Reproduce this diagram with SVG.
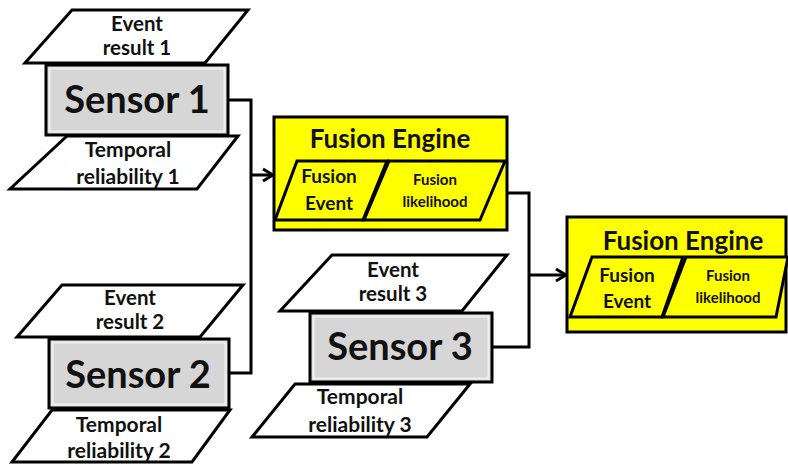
<svg xmlns="http://www.w3.org/2000/svg" width="788" height="464" viewBox="0 0 788 464">
<defs>
<style>
.t{font-family:Lato,"Liberation Sans",sans-serif;font-weight:bold;fill:#111;text-anchor:middle}
.para{fill:#fff;stroke:#000;stroke-width:3;stroke-linejoin:miter}
.ypara{fill:#ffff00;stroke:#000;stroke-width:3}
.sens{fill:#d6d6d6;stroke:#000;stroke-width:3}
.sensin{fill:none;stroke:#f0f0f0;stroke-width:2}
.eng{fill:#ffff00;stroke:#000;stroke-width:3}
.ln{fill:none;stroke:#000;stroke-width:3}
</style>
<marker id="arr" markerUnits="userSpaceOnUse" markerWidth="14" markerHeight="16" refX="12" refY="8" orient="auto">
<path d="M2,2 L12,8 L2,14" fill="none" stroke="#000" stroke-width="3"/>
</marker>
</defs>
<rect width="788" height="464" fill="#fff"/>
<g id="connectors">
<path class="ln" d="M228,100 H251 V373 H229"/>
<path class="ln" d="M251,175 H273" marker-end="url(#arr)"/>
<path class="ln" d="M492,193 H529 V347 H492"/>
<path class="ln" d="M529,275 H566" marker-end="url(#arr)"/>
</g>
<g id="event1">
<polygon class="para" points="72,10 248,10 205,63 25,63"/>
<text class="t" x="137" y="31" font-size="20.5">Event</text>
<text class="t" x="137" y="55" font-size="20.5">result 1</text>
</g>
<g id="sensor1">
<rect class="sens" x="46" y="65" width="182" height="70"/>
<rect class="sensin" x="49.5" y="68.5" width="175" height="63"/>
<text class="t" x="137" y="113" font-size="38">Sensor 1</text>
</g>
<g id="temporal1">
<polygon class="para" points="67,136 238,136 197,189 10,189"/>
<text class="t" x="128" y="157" font-size="21">Temporal</text>
<text class="t" x="128" y="184" font-size="21">reliability 1</text>
</g>
<g id="event2">
<polygon class="para" points="62,285 243,285 200,337 17,337"/>
<text class="t" x="130" y="305" font-size="20.5">Event</text>
<text class="t" x="130" y="329" font-size="20.5">result 2</text>
</g>
<g id="sensor2">
<rect class="sens" x="49" y="339" width="180" height="69"/>
<rect class="sensin" x="52.5" y="342.5" width="173" height="62"/>
<text class="t" x="138" y="388" font-size="38">Sensor 2</text>
</g>
<g id="temporal2">
<polygon class="para" points="52,410 230,410 192,462 12,462"/>
<text class="t" x="119" y="432" font-size="21">Temporal</text>
<text class="t" x="119" y="458" font-size="21">reliability 2</text>
</g>
<g id="fusion1">
<rect class="eng" x="274" y="117" width="233" height="113"/>
<text class="t" x="390" y="148" font-size="26">Fusion Engine</text>
<polygon class="ypara" points="297,161 387,161 363,220 275,220"/>
<text class="t" x="329" y="183" font-size="19">Fusion</text>
<text class="t" x="329" y="210" font-size="19">Event</text>
<polygon class="ypara" points="389,161 505,161 480,220 364,220"/>
<text class="t" x="435" y="185" font-size="15">Fusion</text>
<text class="t" x="435" y="207" font-size="15">likelihood</text>
</g>
<g id="event3">
<polygon class="para" points="332,255 507,255 462,311 280,311"/>
<text class="t" x="393" y="277" font-size="20.5">Event</text>
<text class="t" x="393" y="301" font-size="20.5">result 3</text>
</g>
<g id="sensor3">
<rect class="sens" x="310" y="313" width="182" height="69"/>
<rect class="sensin" x="313.5" y="316.5" width="175" height="62"/>
<text class="t" x="400" y="360" font-size="38">Sensor 3</text>
</g>
<g id="temporal3">
<polygon class="para" points="295,384 470,384 427,437 252,437"/>
<text class="t" x="360" y="404" font-size="21">Temporal</text>
<text class="t" x="360" y="432" font-size="21">reliability 3</text>
</g>
<g id="fusion2">
<rect class="eng" x="567" y="217" width="219" height="115"/>
<text class="t" x="683" y="250" font-size="26">Fusion Engine</text>
<polygon class="ypara" points="592,257 683,257 662,317 570,317"/>
<text class="t" x="627" y="282" font-size="19">Fusion</text>
<text class="t" x="627" y="308" font-size="19">Event</text>
<polygon class="ypara" points="686,257 788,257 776,317 663,317"/>
<text class="t" x="728" y="281" font-size="15">Fusion</text>
<text class="t" x="728" y="303" font-size="15">likelihood</text>
</g>
</svg>
